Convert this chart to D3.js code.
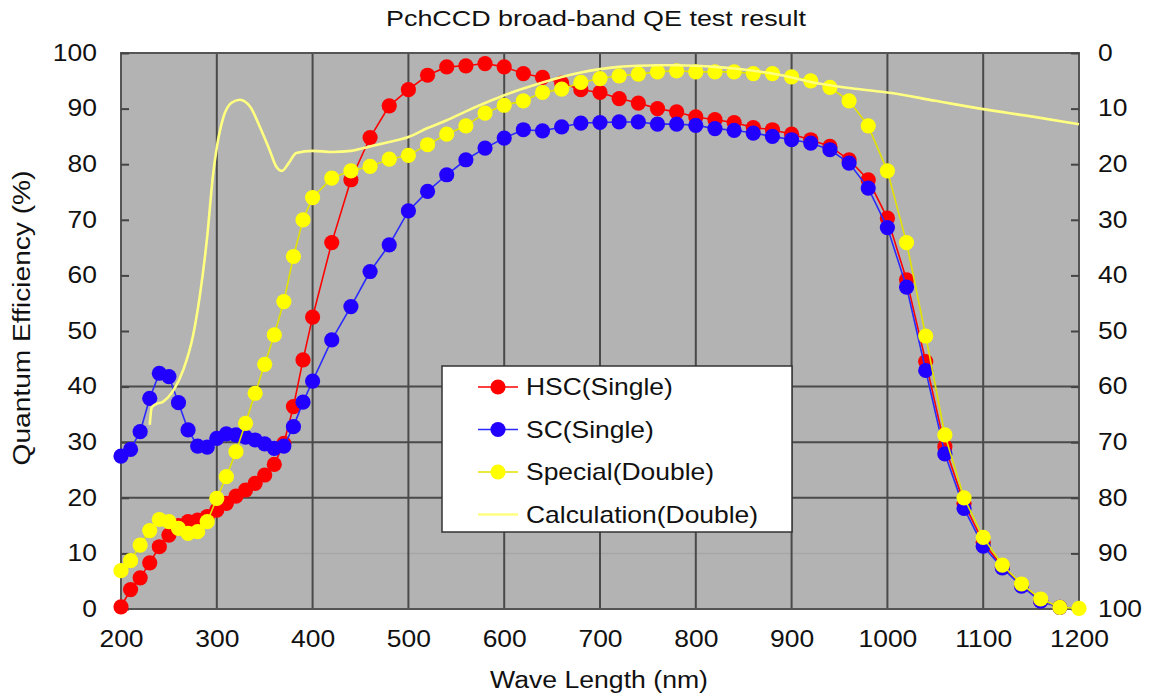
<!DOCTYPE html>
<html>
<head>
<meta charset="utf-8">
<script src="https://cdn.jsdelivr.net/npm/d3@7"></script>
<style>
  body { margin: 0; background: #fff; }
  svg text { font-family: "Liberation Sans", Arial, sans-serif; fill: #111; }
</style>
</head>
<body>
<div id="chart"></div>
<script>
// wavelengths (nm): 10 nm steps up to 400, then 20 nm steps
var wavelengths = [200, 210, 220, 230, 240, 250, 260, 270, 280, 290, 300, 310, 320, 330, 340, 350, 360, 370, 380, 390, 400,
    420, 440, 460, 480, 500, 520, 540, 560, 580, 600, 620, 640, 660, 680, 700, 720, 740, 760, 780, 800,
    820, 840, 860, 880, 900, 920, 940, 960, 980, 1000, 1020, 1040, 1060, 1080, 1100, 1120, 1140, 1160, 1180, 1200];

var hscSingle = [0.4, 3.5, 5.6, 8.3, 11.2, 13.3, 15.0, 15.7, 16.0, 16.6, 17.8, 19.0, 20.3, 21.4, 22.6, 24.1, 26.0, 29.8, 36.4, 44.8, 52.5,
    65.9, 77.2, 84.8, 90.5, 93.4, 96.0, 97.5, 97.7, 98.1, 97.5, 96.3, 95.6, 94.6, 93.4, 92.9, 91.8, 91.0, 90.0, 89.4, 88.5,
    88.0, 87.5, 86.6, 86.2, 85.4, 84.4, 83.2, 80.8, 77.2, 70.3, 59.2, 44.5, 29.2, 19.0, 12.0, 7.6, 4.3, 1.5, 0.3];

var scSingle = [27.5, 28.7, 31.9, 37.9, 42.4, 41.8, 37.1, 32.2, 29.3, 29.1, 30.7, 31.5, 31.3, 30.9, 30.4, 29.7, 28.9, 29.3, 32.8, 37.2, 41.0,
    48.4, 54.4, 60.7, 65.5, 71.6, 75.1, 78.1, 80.8, 82.9, 84.7, 86.2, 86.0, 86.7, 87.4, 87.5, 87.6, 87.6, 87.2, 87.2, 87.0,
    86.4, 86.1, 85.6, 85.0, 84.4, 83.8, 82.6, 80.2, 75.7, 68.6, 57.9, 42.9, 27.9, 18.1, 11.3, 7.4, 4.1, 1.4, 0.3];

var specialDouble = [6.9, 8.7, 11.5, 14.1, 16.1, 15.7, 14.5, 13.6, 13.9, 15.7, 19.9, 23.8, 28.3, 33.4, 38.8, 44.0, 49.3, 55.3, 63.4, 70.0, 74.0,
    77.5, 78.8, 79.6, 80.9, 81.6, 83.5, 85.4, 86.9, 89.2, 90.6, 91.4, 92.9, 93.5, 94.7, 95.4, 95.9, 96.2, 96.6, 96.8, 96.6,
    96.6, 96.6, 96.3, 96.3, 95.7, 95.0, 93.8, 91.4, 86.9, 78.8, 65.9, 49.1, 31.3, 20.0, 12.9, 7.9, 4.5, 1.8, 0.3, 0.1];

// calculated curve (double coating)
var calcWave = [230, 232, 236, 244, 255, 265, 275, 282, 290, 296, 300, 307, 315, 324, 335, 345, 355, 362, 368, 375, 383,
    400, 420, 440, 460, 480, 500, 520, 540, 560, 580, 600, 620, 640, 660, 680, 700, 720, 740, 760, 780, 800,
    820, 840, 860, 880, 900, 920, 940, 960, 980, 1000, 1050, 1100, 1150, 1200];
var calcQE = [33.1, 36.2, 36.8, 37.3, 39.4, 43.0, 49.0, 56.0, 67.0, 78.0, 83.0, 88.5, 91.0, 91.6, 90.3, 86.7, 82.6, 79.6, 78.8, 80.2, 82.0,
    82.4, 82.2, 82.4, 83.2, 84.0, 84.9, 86.5, 87.9, 89.5, 91.0, 92.4, 93.6, 94.7, 95.7, 96.5, 97.1, 97.5, 97.7, 97.8, 97.8, 97.7,
    97.5, 97.2, 96.8, 96.3, 95.6, 94.8, 94.2, 93.7, 93.3, 92.9, 91.4, 89.9, 88.6, 87.2];

var xTicks = [200, 300, 400, 500, 600, 700, 800, 900, 1000, 1100, 1200];
var yTicks = [0, 10, 20, 30, 40, 50, 60, 70, 80, 90, 100];
var gridY = [20, 30, 40];

var series = [
    { name: "HSC(Single)", values: hscSingle, color: "#ff0000", line: "#ff0000" },
    { name: "SC(Single)", values: scSingle, color: "#2200ff", line: "#2a2aff" },
    { name: "Special(Double)", values: specialDouble, color: "#ffff00", line: "#e2e200" }
];

var W = 1149, H = 700;
var plotL = 121, plotR = 1079, plotT = 53, plotB = 609;
var STRETCH = 1.15;   // glyphs in the source are wider than Arial

var svg = d3.select("#chart").append("svg")
    .attr("width", W).attr("height", H);

var x = d3.scaleLinear().domain([200, 1200]).range([plotL, plotR]);
var y = d3.scaleLinear().domain([0, 100]).range([plotB, plotT]);
var y2 = d3.scaleLinear().domain([0, 100]).range([plotT, plotB]);   // right axis runs the other way

// plot background
svg.append("rect")
    .attr("x", plotL).attr("y", plotT)
    .attr("width", plotR - plotL).attr("height", plotB - plotT)
    .attr("fill", "#b3b3b3");

// faint line at 10
svg.append("line")
    .attr("x1", plotL).attr("x2", plotR)
    .attr("y1", y(10)).attr("y2", y(10))
    .attr("stroke", "#a6a6a6").attr("stroke-width", 1.5);

// grid
svg.append("g").selectAll("line")
    .data(xTicks.slice(1, -1))
    .enter().append("line")
    .attr("x1", function(d) { return x(d); }).attr("x2", function(d) { return x(d); })
    .attr("y1", plotT).attr("y2", plotB)
    .attr("stroke", "#4a4a4a").attr("stroke-width", 2);

svg.append("g").selectAll("line")
    .data(gridY)
    .enter().append("line")
    .attr("x1", plotL).attr("x2", plotR)
    .attr("y1", function(d) { return y(d); }).attr("y2", function(d) { return y(d); })
    .attr("stroke", "#4a4a4a").attr("stroke-width", 2);

// frame
svg.append("rect")
    .attr("x", plotL).attr("y", plotT)
    .attr("width", plotR - plotL).attr("height", plotB - plotT)
    .attr("fill", "none").attr("stroke", "#555").attr("stroke-width", 2);

function styleAxis(g) {
    g.select(".domain").remove();
    g.selectAll(".tick line").attr("stroke", "#444").attr("stroke-width", 2);
    g.selectAll("text")
        .attr("font-size", 23)
        .attr("fill", "#111")
        .attr("transform", "scale(" + STRETCH + ",1)");
}

svg.append("g")
    .attr("transform", "translate(" + plotL + ",0)")
    .call(d3.axisLeft(y).tickValues(yTicks).tickSizeInner(-8).tickSizeOuter(0).tickPadding(21))
    .call(styleAxis);

svg.append("g")
    .attr("transform", "translate(" + plotR + ",0)")
    .call(d3.axisRight(y2).tickValues(yTicks).tickSizeInner(-8).tickSizeOuter(0).tickPadding(16.5))
    .call(styleAxis);

svg.append("g")
    .attr("transform", "translate(0," + plotB + ")")
    .call(d3.axisBottom(x).tickValues(xTicks).tickFormat(d3.format("d")).tickSize(0).tickPadding(22))
    .call(styleAxis);

// series: line then markers
var line = d3.line()
    .x(function(d) { return x(d[0]); })
    .y(function(d) { return y(d[1]); });

series.forEach(function(s) {
    var pts = s.values.map(function(v, i) { return [wavelengths[i], v]; });
    var g = svg.append("g");
    g.append("path")
        .attr("d", line(pts))
        .attr("fill", "none")
        .attr("stroke", s.line)
        .attr("stroke-width", 1.6);
    g.selectAll("circle")
        .data(pts)
        .enter().append("circle")
        .attr("cx", function(d) { return x(d[0]); })
        .attr("cy", function(d) { return y(d[1]); })
        .attr("r", 7.6)
        .attr("fill", s.color);
});

var calcLine = d3.line()
    .curve(d3.curveMonotoneX)
    .x(function(d) { return x(d[0]); })
    .y(function(d) { return y(d[1]); });

svg.append("path")
    .attr("d", calcLine(calcWave.map(function(w, i) { return [w, calcQE[i]]; })))
    .attr("fill", "none")
    .attr("stroke", "#ffff80")
    .attr("stroke-width", 2.6);

// titles
svg.append("text")
    .attr("x", 596).attr("y", 26)
    .attr("text-anchor", "middle")
    .attr("font-size", 22)
    .attr("textLength", 420).attr("lengthAdjust", "spacingAndGlyphs")
    .text("PchCCD broad-band QE test result");

svg.append("text")
    .attr("x", 599).attr("y", 688)
    .attr("text-anchor", "middle")
    .attr("font-size", 23)
    .attr("textLength", 218).attr("lengthAdjust", "spacingAndGlyphs")
    .text("Wave Length (nm)");

svg.append("text")
    .attr("transform", "translate(30,318) rotate(-90)")
    .attr("text-anchor", "middle")
    .attr("font-size", 23)
    .attr("textLength", 295).attr("lengthAdjust", "spacingAndGlyphs")
    .text("Quantum Efficiency (%)");

// legend
var legend = svg.append("g");
legend.append("rect")
    .attr("x", 442).attr("y", 366)
    .attr("width", 350).attr("height", 166)
    .attr("fill", "#fff").attr("stroke", "#333").attr("stroke-width", 1.5);

var legendItems = series.concat([{ name: "Calculation(Double)", color: null, line: "#ffff80" }]);
legendItems.forEach(function(s, i) {
    var ly = 387 + i * 42.5;
    legend.append("line")
        .attr("x1", 478).attr("x2", 518)
        .attr("y1", ly).attr("y2", ly)
        .attr("stroke", s.color ? s.line : "#ffff80")
        .attr("stroke-width", s.color ? 1.6 : 2.6);
    if (s.color)
        legend.append("circle")
            .attr("cx", 498).attr("cy", ly).attr("r", 7.6)
            .attr("fill", s.color);
    legend.append("text")
        .attr("transform", "translate(526," + ly + ") scale(" + STRETCH + ",1)")
        .attr("dy", "0.36em")
        .attr("font-size", 23)
        .text(s.name);
});
</script>
</body>
</html>
